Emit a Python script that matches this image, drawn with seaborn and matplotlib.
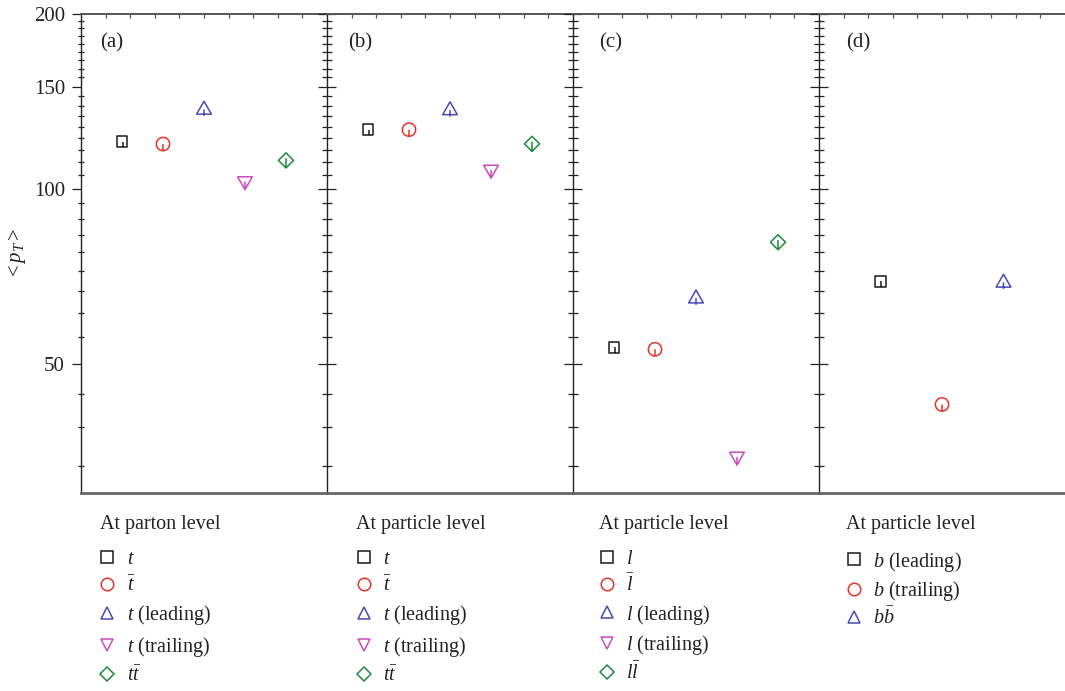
import numpy as np
import matplotlib
matplotlib.use("Agg")
import matplotlib.pyplot as plt
from matplotlib.path import Path
from matplotlib.lines import Line2D
from matplotlib.ticker import FixedLocator, NullFormatter, FixedFormatter
import seaborn as sns

# ---------------- data ----------------
panel_tags = ["(a)", "(b)", "(c)", "(d)"]
panel_titles = ["At parton level", "At particle level", "At particle level", "At particle level"]
labels_a = [r"$t$", r"$\bar{t}$", r"$t$ (leading)", r"$t$ (trailing)", r"$t\bar{t}$"]
labels_b = [r"$t$", r"$\bar{t}$", r"$t$ (leading)", r"$t$ (trailing)", r"$t\bar{t}$"]
labels_c = [r"$l$", r"$\bar{l}$", r"$l$ (leading)", r"$l$ (trailing)", r"$l\bar{l}$"]
labels_d = [r"$b$ (leading)", r"$b$ (trailing)", r"$b\bar{b}$"]
mean_pt_a = [120.5, 119.5, 137.5, 102.7, 112.0]
mean_pt_b = [126.5, 126.5, 137.2, 107.5, 119.6]
mean_pt_c = [53.4, 53.0, 65.1, 34.5, 81.0]
mean_pt_d = [69.4, 42.6, 69.3]
y_major = [50, 100, 150, 200]
y_tick_labels = ["50", "100", "150", "200"]
y_limits = (30, 200)

# ---------------- style ----------------
sns.set_style("white")
plt.rcParams["font.family"] = ["Liberation Serif", "DejaVu Serif"]
plt.rcParams["mathtext.fontset"] = "custom"
plt.rcParams["mathtext.rm"] = "Liberation Serif"
plt.rcParams["mathtext.it"] = "Liberation Serif:italic"
plt.rcParams["mathtext.bf"] = "Liberation Serif:bold"

colors = ["#1a1a1a", "#e5342a", "#4a4ab5", "#cc4cc0", "#1f8a3c"]
text_color = "#222222"


def shape_with_stem(outline, stem):
    verts = list(outline) + [outline[0]] + list(stem)
    codes = ([Path.MOVETO] + [Path.LINETO] * (len(outline) - 1) + [Path.CLOSEPOLY]
             + [Path.MOVETO, Path.LINETO])
    return Path(verts, codes)


sq = shape_with_stem([(-1, -1), (1, -1), (1, 1), (-1, 1)], [(0.1, 0.0), (0.1, -1)])
circ = Path.make_compound_path(Path.unit_circle(),
                               Path([(0, 0), (0, -1)], [Path.MOVETO, Path.LINETO]))
tri_up = shape_with_stem([(0, 1), (-1, -0.75), (1, -0.75)], [(0, -0.1), (0, -1.0)])
tri_dn = shape_with_stem([(0, -1), (-1, 0.75), (1, 0.75)], [(0, 0.1), (0, -1.0)])
diam = shape_with_stem([(0, 1), (1, 0), (0, -1), (-1, 0)], [(0, 0.3), (0, -1)])
point_markers = [sq, circ, tri_up, tri_dn, diam]
point_sizes = [62, 92, 112, 112, 118]
legend_markers = ["s", "o", "^", "v", "D"]
legend_msize = [8, 9, 9, 9, 7.5]

fig = plt.figure(figsize=(10.65, 6.91), dpi=100)
axes = fig.subplots(1, 4, sharey=True)
fig.subplots_adjust(left=81 / 1065, right=1.0, top=1 - 14 / 691, bottom=1 - 493 / 691, wspace=0)

all_vals = [mean_pt_a, mean_pt_b, mean_pt_c, mean_pt_d]
all_labels = [labels_a, labels_b, labels_c, labels_d]
tag_x = [0.077, 0.085, 0.105, 0.11]
leg_x = [0.077, 0.118, 0.106, 0.11]
leg_top = [-0.119, -0.119, -0.119, -0.118]
leg_spacing = [0.37, 0.37, 0.3, 0.25]

minor_ticks = [200 - k * 50 / 9 for k in range(1, 31) if k % 9 != 0]

for i, ax in enumerate(axes):
    vals = all_vals[i]
    n = len(vals)
    for j, v in enumerate(vals):
        sns.scatterplot(x=[j], y=[v], marker=point_markers[j], s=point_sizes[j],
                        color=colors[j], facecolor="none", edgecolor=colors[j],
                        linewidth=1.1, ax=ax, legend=False, zorder=3)
    ax.set_yscale("log")
    ax.set_ylim(*y_limits)
    ax.set_xlim(-1, n)
    ax.yaxis.set_major_locator(FixedLocator(y_major))
    ax.yaxis.set_major_formatter(FixedFormatter(y_tick_labels))
    ax.yaxis.set_minor_locator(FixedLocator(minor_ticks))
    ax.yaxis.set_minor_formatter(NullFormatter())
    xt = np.linspace(-1, n, 11)[1:-1]
    ax.set_xticks(xt)
    ax.tick_params(axis="x", which="both", top=True, bottom=False, direction="in",
                   length=3, width=0.9, color="#555555", labelbottom=False, labeltop=False)
    ax.set_xlabel("")
    ax.set_ylabel("")
    if i == 0:
        ax.tick_params(axis="y", which="major", direction="out", length=6.5, width=0.9,
                       color=text_color, labelsize=15, pad=5, left=True, labelcolor=text_color)
        ax.tick_params(axis="y", which="minor", direction="inout", length=5, width=0.9,
                       color=text_color, left=True)
        ax.set_ylabel(r"$<p_T>$", fontsize=15, labelpad=4, color=text_color)
    else:
        ax.tick_params(axis="y", which="major", direction="inout", length=13, width=0.9,
                       color=text_color, left=True, labelleft=False)
        ax.tick_params(axis="y", which="minor", direction="inout", length=7.5, width=0.9,
                       color=text_color, left=True, labelleft=False)
    ax.tick_params(axis="y", which="both", right=False)
    ax.spines["left"].set_color(text_color)
    ax.spines["left"].set_linewidth(1.0)
    ax.spines["right"].set_visible(False)
    ax.spines["top"].set_color("#555555")
    ax.spines["top"].set_linewidth(1.4)
    ax.spines["bottom"].set_color("#666666")
    ax.spines["bottom"].set_linewidth(2.0)

    ax.text(tag_x[i], 0.94, panel_tags[i], transform=ax.transAxes, ha="left", va="center",
            fontsize=15, color=text_color)

    # legend block below each panel
    ax.text(leg_x[i], -(524 - 493) / 479, panel_titles[i], transform=ax.transAxes,
            ha="left", va="center", fontsize=14.5, color=text_color)
    handles = [Line2D([], [], linestyle="none", marker=legend_markers[j], markersize=legend_msize[j],
                      markerfacecolor="none", markeredgecolor=colors[j], markeredgewidth=1.1)
               for j in range(n)]
    leg = ax.legend(handles, all_labels[i], loc="upper left",
                    bbox_to_anchor=(leg_x[i], leg_top[i]), frameon=False, borderpad=0,
                    borderaxespad=0, handlelength=0.75, handletextpad=0.6,
                    labelspacing=leg_spacing[i], fontsize=14.5)
    for t in leg.get_texts():
        t.set_color(text_color)

fig.savefig("out.png", dpi=100)
